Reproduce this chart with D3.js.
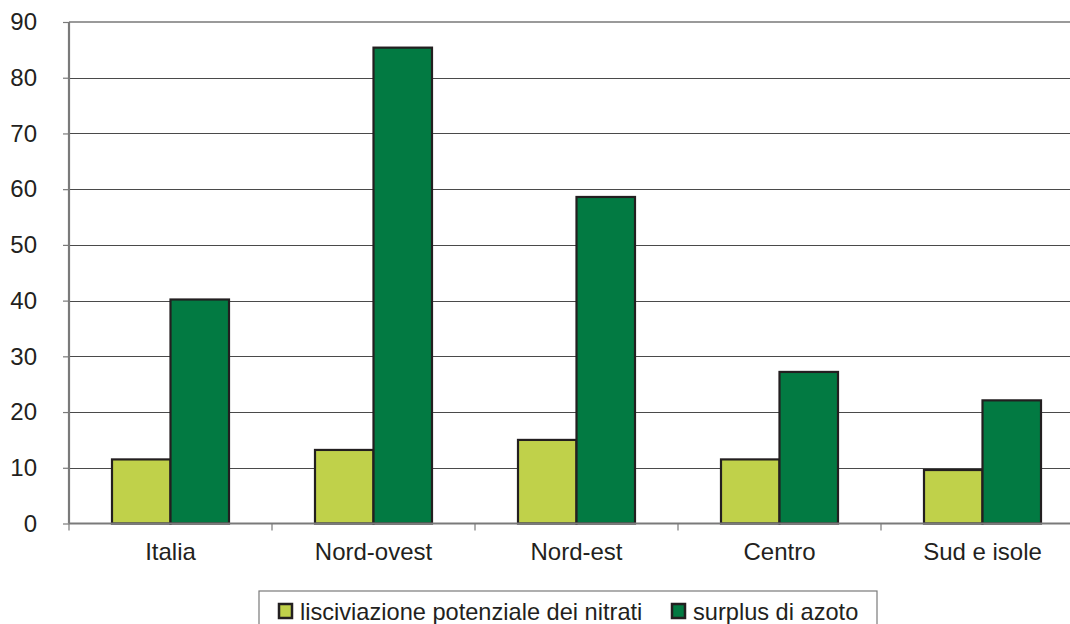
<!DOCTYPE html>
<html><head><meta charset="utf-8">
<script src="https://cdn.jsdelivr.net/npm/d3@7"></script>
<style>body{margin:0;background:#fff}svg{display:block}text{font-family:"Liberation Sans",Arial,sans-serif;fill:#231f20}</style>
</head><body><svg id="c" width="1070" height="624"></svg>
<script>
const categories = ["Italia","Nord-ovest","Nord-est","Centro","Sud e isole"];
const seriesNames = ["lisciviazione potenziale dei nitrati","surplus di azoto"];
const lisciviazione = [11.5, 13.2, 15.0, 11.5, 9.6];
const surplus = [40.2, 85.4, 58.6, 27.2, 22.1];
const yTicks = [0,10,20,30,40,50,60,70,80,90];
const colors = ["#c0d14a","#027a42"];

const svg = d3.select("#c");
const L = 69, R = 1084, T = 22, B = 523.5;
const x = d3.scaleBand().domain(categories).range([L, R]);
const y = d3.scaleLinear().domain([0, 90]).range([B, T]);
const barW = 58.5;
const series = [lisciviazione, surplus];

// gridlines
svg.append("g").selectAll("line").data(yTicks.filter(t => t > 0 && t < 90)).join("line")
  .attr("x1", L).attr("x2", R).attr("y1", d => Math.round(y(d)) + 0.5).attr("y2", d => Math.round(y(d)) + 0.5)
  .attr("stroke", "#4a4a4a").attr("stroke-width", 1.2);
// top line
svg.append("line").attr("x1", L).attr("x2", R).attr("y1", y(90)).attr("y2", y(90))
  .attr("stroke", "#9a9a9a").attr("stroke-width", 2.2);

// bars
series.forEach((vals, si) => {
  svg.append("g").selectAll("rect").data(categories).join("rect")
    .attr("x", d => x(d) + x.bandwidth()/2 - barW + si*barW)
    .attr("y", (d,i) => y(vals[i]))
    .attr("width", barW)
    .attr("height", (d,i) => y(0) - y(vals[i]))
    .attr("fill", colors[si]).attr("stroke", "#231f20").attr("stroke-width", 2.2);
});

// y axis
const ya = d3.axisLeft(y).tickValues(yTicks).tickSize(6).tickPadding(26);
const gy = svg.append("g").attr("transform", `translate(${L},0)`).call(ya);
gy.select(".domain").attr("stroke", "#7a7a7a").attr("stroke-width", 2.2).attr("d", `M0,${T}V${B}`);
gy.selectAll(".tick line").attr("stroke", "#7a7a7a").attr("stroke-width", 1.2);
gy.selectAll(".tick text").attr("font-size", 24).style("fill", "#231f20");
// x axis
const bounds = [L].concat(categories.map(c => x(c) + x.bandwidth()));
const gx = svg.append("g");
gx.append("line").attr("x1", L).attr("x2", R).attr("y1", B).attr("y2", B).attr("stroke", "#7a7a7a").attr("stroke-width", 2.2);
gx.selectAll("line.t").data(bounds).join("line").attr("class","t")
  .attr("x1", d => d).attr("x2", d => d).attr("y1", B).attr("y2", B + 7)
  .attr("stroke", "#7a7a7a").attr("stroke-width", 1.2);
gx.selectAll("text").data(categories).join("text")
  .attr("x", d => x(d) + x.bandwidth()/2).attr("y", 560)
  .attr("text-anchor", "middle").attr("font-size", 24).text(d => d);

// legend
const lg = svg.append("g");
lg.append("rect").attr("x", 259).attr("y", 591).attr("width", 618).attr("height", 40)
  .attr("fill", "#fff").attr("stroke", "#7a7a7a").attr("stroke-width", 1.2);
const lx = [279, 672];
seriesNames.forEach((n, i) => {
  lg.append("rect").attr("x", lx[i]).attr("y", 604).attr("width", 13).attr("height", 14)
    .attr("fill", colors[i]).attr("stroke", "#231f20").attr("stroke-width", 2.5);
  lg.append("text").attr("x", lx[i] + 21).attr("y", 620).attr("font-size", 23.6).text(n);
});
</script></body></html>
